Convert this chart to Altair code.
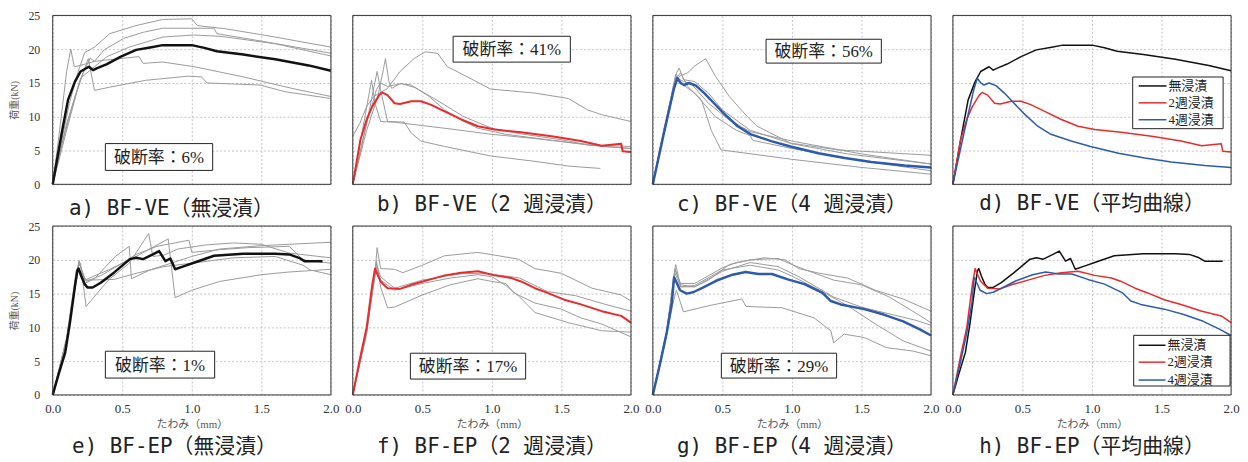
import altair as alt
import pandas as pd

# ---------------- axis ticks ----------------
XT = [0.0, 0.5, 1.0, 1.5, 2.0]
YT = [0, 5, 10, 15, 20, 25]

# ---------------- data: (deflection mm, load kN) ----------------
# a) BF-VE no immersion
A_MEAN = [(0,0),(0.065,7.6),(0.11,12.5),(0.16,15.2),(0.2,16.7),(0.26,17.4),(0.29,16.9),(0.32,17.2),(0.39,17.8),(0.49,18.9),(0.6,19.9),(0.71,20.3),(0.79,20.6),(1.0,20.6),(1.09,20.2),(1.18,19.7),(1.37,19.2),(1.6,18.5),(1.84,17.6),(2.0,16.8)]
A_G1 = [(0,0),(0.06,6),(0.12,12),(0.18,16.5),(0.23,19.5),(0.3,20.3),(0.41,22.3),(0.6,23.5),(0.79,24.4),(1.0,24.5),(1.04,23.5),(1.25,23.0),(1.6,21.8),(2.0,20.3)]
A_G2 = [(0,0),(0.08,7),(0.16,13),(0.22,16.5),(0.27,18.7),(0.3,18.2),(0.37,19.9),(0.51,21.6),(0.65,22.5),(0.79,23.1),(1.16,23.1),(1.18,22.3),(1.5,21.2),(2.0,19.4)]
A_G3 = [(0,0),(0.1,8),(0.2,15.7),(0.3,17.4),(0.39,18.9),(0.55,20.3),(0.79,21.8),(1.02,22.1),(1.21,21.9),(1.6,20.8),(2.0,19.0)]
A_G4 = [(0,0),(0.05,8),(0.1,16.7),(0.13,20),(0.155,17.4),(0.2,17.6),(0.3,18.2),(0.39,18.4),(0.62,18.9),(0.65,17.9),(0.79,18.1),(1.02,17.4),(1.37,15.9),(1.72,14.2),(2.0,13.0)]
A_G5 = [(0,0),(0.1,9),(0.2,15.5),(0.256,18.6),(0.3,13.9),(0.415,14.4),(0.67,15.4),(0.97,16),(1.07,15.9),(1.11,15),(1.49,14.7),(1.67,13.7),(2.0,12.7)]

# b) BF-VE 2 weeks
B_MEAN = [(0,0),(0.055,6.6),(0.1,9.6),(0.14,11.5),(0.19,13.2),(0.21,13.6),(0.25,13.2),(0.3,12.0),(0.34,11.9),(0.42,12.3),(0.49,12.3),(0.56,11.8),(0.66,10.8),(0.78,9.6),(0.9,8.6),(1.02,8.1),(1.21,7.7),(1.43,7.1),(1.64,6.4),(1.79,5.7),(1.93,6.0),(1.94,4.9),(2.0,4.8)]
B_G1 = [(0,7.1),(0.05,9),(0.1,11.5),(0.15,13),(0.2,13.6),(0.25,14.2),(0.34,16.7),(0.44,18.6),(0.52,19.6),(0.61,19.4),(0.68,17.4),(0.73,16.9),(0.87,15.4),(0.99,14.1),(1.31,13.5),(1.55,12.7),(1.69,11.0),(1.79,10.3),(2.0,9.3)]
B_G2 = [(0,0),(0.1,8),(0.18,13),(0.22,17),(0.235,18.6),(0.26,15.2),(0.28,14.2),(0.34,14.9),(0.42,14.7),(0.55,13),(0.66,11),(0.8,9.3),(0.9,8.3),(1.1,7.4),(1.4,6.6),(1.7,5.8),(2.0,5.3)]
B_G3 = [(0,0),(0.1,9),(0.175,16.7),(0.2,14),(0.25,9.3),(0.37,9.2),(0.42,7.6),(0.49,6.4),(0.66,5.6),(0.99,4.2),(1.31,3.4),(1.55,2.7),(1.78,2.35)]
B_G4 = [(0,0),(0.07,8),(0.135,15.4),(0.16,12),(0.2,9.3),(0.3,9.2),(0.5,8.7),(0.7,8.2),(1.0,7.4),(1.3,6.8),(1.6,6.1),(1.8,5.6),(2.0,5.3)]
B_G5 = [(0,0),(0.1,9),(0.17,14),(0.2,15),(0.25,14.5),(0.35,14.9),(0.45,14.3),(0.6,12.5),(0.8,10),(1.0,8.3),(1.2,7.5),(1.5,6.6),(1.7,5.8),(2.0,5.6)]

# c) BF-VE 4 weeks
C_MEAN = [(0,0),(0.08,7.6),(0.15,14),(0.176,15.7),(0.2,15),(0.224,14.7),(0.26,15),(0.31,14.6),(0.37,13.5),(0.44,12),(0.51,10.5),(0.61,8.6),(0.705,7.4),(0.85,6.4),(0.99,5.6),(1.19,4.6),(1.38,3.9),(1.57,3.3),(1.81,2.8),(2.0,2.5)]
C_G1 = [(0,0),(0.08,8),(0.15,14),(0.19,16),(0.25,16.5),(0.3,17.5),(0.38,18.6),(0.45,16),(0.55,13),(0.68,10),(0.75,8.6),(0.99,6.1),(1.33,5.1),(2.0,4.3)]
C_G2 = [(0,0),(0.08,8.2),(0.17,16.5),(0.19,17.2),(0.22,15.5),(0.3,15.2),(0.4,13.5),(0.5,11),(0.7,8),(1.0,6),(1.4,4.5),(2.0,3)]
C_G3 = [(0,0),(0.08,7.5),(0.17,15.8),(0.2,16.5),(0.25,14.5),(0.35,12.5),(0.42,8),(0.49,5.1),(1.0,3.7),(1.5,2.5),(2.0,1.5)]
C_G4 = [(0,0),(0.08,8),(0.17,16),(0.2,15),(0.3,13.5),(0.45,10),(0.6,8),(0.7,7.2),(0.72,6.5),(1.0,5.3),(1.5,3.5),(2.0,2.0)]
C_G5 = [(0,0),(0.08,7.8),(0.165,16.3),(0.2,15.4),(0.28,14.8),(0.4,12),(0.55,9.5),(0.7,7.8),(1.0,6.4),(1.5,4.5),(2.0,3.0)]

# e) BF-EP no immersion
E_MEAN = [(0,0),(0.04,2.9),(0.09,6.3),(0.124,10.7),(0.16,16.1),(0.177,18.4),(0.186,18.7),(0.205,17.6),(0.23,16.4),(0.25,15.9),(0.287,15.9),(0.345,16.6),(0.44,18.1),(0.555,20.1),(0.6,20.3),(0.65,20.1),(0.72,20.8),(0.765,21.3),(0.81,19.8),(0.846,20.2),(0.88,18.6),(0.95,19.1),(1.02,19.6),(1.16,20.6),(1.37,20.9),(1.6,20.9),(1.7,20.8),(1.77,20.3),(1.81,19.8),(1.94,19.8)]
E_G1 = [(0,0),(0.1,8),(0.17,18),(0.19,19.9),(0.23,16.5),(0.3,17.2),(0.45,20.5),(0.55,22),(0.566,17.2),(0.7,18.5),(0.85,19.5),(1.0,20.5),(1.2,21.6),(1.5,22.1),(1.7,22.3),(2.0,22.6)]
E_G2 = [(0,0),(0.1,8.5),(0.17,18.5),(0.2,19.5),(0.24,13.1),(0.4,17),(0.55,19.5),(0.69,23.9),(0.72,20.5),(0.8,20.7),(0.9,21.6),(1.1,22.2),(1.3,22.5),(1.5,22.3),(1.7,21),(2.0,20.3)]
E_G3 = [(0,0),(0.1,8.2),(0.19,19.8),(0.23,17),(0.4,18.5),(0.6,20.5),(0.83,23.1),(0.88,14.4),(1.0,15.5),(1.2,16.8),(1.5,17.8),(1.7,18.2),(2.0,18.6)]
E_G4 = [(0,0),(0.1,8),(0.19,19.5),(0.24,16.8),(0.35,17.7),(0.5,19.5),(0.6,20.8),(0.75,22),(0.98,22.9),(1.0,21.1),(1.2,21.5),(1.4,21.8),(1.7,22),(1.8,20),(2.0,19.5)]
E_G5 = [(0,0),(0.1,8.3),(0.18,19),(0.24,17),(0.44,17.1),(0.6,18),(0.8,19),(1.0,19.5),(1.3,20.3),(1.6,20.5),(1.8,19.2),(1.85,18.5),(2.0,17.8)]

# f) BF-EP 2 weeks
F_MEAN = [(0,0),(0.055,5.7),(0.1,10),(0.14,16.3),(0.16,18.7),(0.17,18.2),(0.2,16.8),(0.25,15.8),(0.34,15.7),(0.42,16.3),(0.54,17),(0.66,17.7),(0.78,18.1),(0.9,18.3),(1.02,17.7),(1.14,17.3),(1.21,16.8),(1.31,15.8),(1.4,15.1),(1.52,14.1),(1.64,13.4),(1.79,12.4),(1.93,11.7),(2.0,10.7)]
F_G1 = [(0,0),(0.1,9.5),(0.16,18),(0.175,21.8),(0.2,18.7),(0.3,18.6),(0.36,18.1),(0.5,19.2),(0.66,20.6),(0.9,21.1),(1.02,20.7),(1.19,20.1),(1.31,18.7),(1.5,18),(1.72,15.8),(1.93,14.8),(2.0,13.9)]
F_G2 = [(0,0),(0.1,9),(0.15,17),(0.17,19.8),(0.2,16),(0.25,12.9),(0.3,13),(0.5,14.8),(0.7,16.3),(0.9,17.2),(1.0,16.8),(1.1,16.5),(1.16,15.1),(1.31,13.6),(1.5,12.7),(1.64,11.4),(1.79,10.5),(2.0,8.6)]
F_G3 = [(0,0),(0.1,9.3),(0.17,19),(0.2,17),(0.3,15.5),(0.5,16.5),(0.7,17.3),(0.9,17.8),(1.0,17.5),(1.1,16.2),(1.2,14.5),(1.31,12.2),(1.55,10.7),(1.79,9.5),(2.0,9.3)]
F_G4 = [(0,0),(0.1,9.6),(0.17,19.5),(0.2,17.5),(0.3,15.8),(0.5,17),(0.8,18),(1.0,17.9),(1.2,17.3),(1.4,15.3),(1.6,14.7),(1.8,13.5),(2.0,12.4)]

# g) BF-EP 4 weeks
G_MEAN = [(0,0),(0.054,4.8),(0.1,9.2),(0.137,13.7),(0.153,17.4),(0.172,16.6),(0.196,15.5),(0.243,15.0),(0.29,15.2),(0.36,15.9),(0.455,16.9),(0.573,17.8),(0.667,18.2),(0.76,17.9),(0.856,17.9),(0.97,17.1),(1.09,16.4),(1.22,15.1),(1.28,13.9),(1.35,13.4),(1.52,12.7),(1.66,11.9),(1.8,10.9),(1.92,9.7),(2.0,8.8)]
G_G1 = [(0,0),(0.1,9.5),(0.15,17.5),(0.165,19.3),(0.2,16),(0.3,16),(0.4,17),(0.55,19.3),(0.7,20),(0.9,20.2),(1.0,19.3),(1.1,18.5),(1.3,17),(1.5,16.3),(1.7,14.5),(1.9,12),(2.0,10.7)]
G_G2 = [(0,0),(0.1,9.3),(0.16,18.5),(0.2,16.5),(0.3,16.5),(0.5,18.8),(0.6,19.6),(0.8,20.3),(0.95,20),(1.05,18.7),(1.2,18),(1.4,17.3),(1.6,15.5),(1.8,14.2),(2.0,12.4)]
G_G3 = [(0,0),(0.08,7),(0.15,14),(0.17,15.5),(0.22,12.3),(0.4,13.2),(0.64,14.2),(0.67,13.1),(0.93,12.9),(1.16,11.4),(1.28,9.5),(1.3,7.7),(1.375,9.0),(1.52,8.5),(1.68,7),(1.87,6.5),(2.0,5.8)]
G_G4 = [(0,0),(0.1,9.4),(0.16,18),(0.2,16),(0.3,16.2),(0.5,18.5),(0.7,19.2),(0.9,18.5),(1.0,17.6),(1.2,15.5),(1.4,13.2),(1.6,10.5),(1.8,8),(2.0,6.5)]
G_G5 = [(0,0),(0.1,9.2),(0.16,18.7),(0.2,16.3),(0.3,16),(0.5,18.3),(0.7,19.6),(0.9,19),(1.05,17.5),(1.3,14.5),(1.5,13),(1.7,12),(1.9,11),(2.0,10.3)]

TITLES = ["a) BF-VE（無浸漬）", "b) BF-VE（2 週浸漬）", "c) BF-VE（4 週浸漬）", "d) BF-VE（平均曲線）",
          "e) BF-EP（無浸漬）", "f) BF-EP（2 週浸漬）", "g) BF-EP（4 週浸漬）", "h) BF-EP（平均曲線）"]
NOTES = ["破断率：6%", "破断率：41%", "破断率：56%", "破断率：1%", "破断率：17%", "破断率：29%"]
LEGEND_LABELS = ["無浸漬", "2週浸漬", "4週浸漬"]

# ---------------- styles ----------------
GRAY = "#9a9a9a"
BLACK = "#111111"
RED = "#ea2a2c"
BLUE = "#2d5baa"
W, H = 280, 170
SERIF_JP = "Liberation Serif, Noto Sans CJK JP"
TITLE_FONT = "DejaVu Sans Mono, Noto Sans CJK JP"


def to_df(curves):
    rows = []
    for cid, pts in enumerate(curves):
        for i, (x, y) in enumerate(pts):
            rows.append({"id": cid, "i": i, "x": x, "y": y})
    return pd.DataFrame(rows)


def encodings(bottom, left):
    xs = alt.Scale(domain=[0, 2], nice=False)
    ys = alt.Scale(domain=[0, 25], nice=False)
    if bottom:
        x = alt.X("x:Q", scale=xs, title="たわみ（mm）",
                  axis=alt.Axis(values=XT, format=".1f", labelPadding=8, labelFlush=False,
                                labelFontSize=13,
                                titleFont=SERIF_JP, titleFontSize=11, titleColor="#555",
                                titleFontWeight="normal", titlePadding=3))
    else:
        x = alt.X("x:Q", scale=xs, title=None, axis=alt.Axis(values=XT, labels=False))
    if left:
        y = alt.Y("y:Q", scale=ys, title="荷重(kN)",
                  axis=alt.Axis(values=YT, labelPadding=13, labelFlush=False, titleFont=SERIF_JP,
                                titleFontSize=10, titleColor="#555",
                                titleFontWeight="normal", titlePadding=8))
    else:
        y = alt.Y("y:Q", scale=ys, title=None, axis=alt.Axis(values=YT, labels=False))
    return x, y


def border_layer():
    return alt.Chart(pd.DataFrame({"k": [0]})).mark_rect(
        filled=False, stroke="#333", strokeWidth=1).encode(
        x=alt.value(0), x2=alt.value(W), y=alt.value(0), y2=alt.value(H))


def note_layers(note, box):
    x1, x2, y1, y2 = box
    one = pd.DataFrame({"note": [note]})
    rect = alt.Chart(one).mark_rect(fill="white", stroke="#222", strokeWidth=1).encode(
        x=alt.value(x1), x2=alt.value(x2), y=alt.value(y1), y2=alt.value(y2))
    txt = alt.Chart(one).mark_text(font=SERIF_JP, fontSize=17, color="#222",
                                   align="center", baseline="middle").encode(
        x=alt.value((x1 + x2) / 2), y=alt.value((y1 + y2) / 2 + 1), text="note:N")
    return [rect, txt]


def legend_layers(box, rows_y, line_x, text_x, colors):
    x1, x2, y1, y2 = box
    out = [alt.Chart(pd.DataFrame({"k": [0]})).mark_rect(fill="white", stroke="#222", strokeWidth=1).encode(
        x=alt.value(x1), x2=alt.value(x2), y=alt.value(y1), y2=alt.value(y2))]
    for lab, col, ry in zip(LEGEND_LABELS, colors, rows_y):
        d = pd.DataFrame({"lab": [lab]})
        out.append(alt.Chart(d).mark_rule(color=col, strokeWidth=1.5).encode(
            x=alt.value(line_x[0]), x2=alt.value(line_x[1]), y=alt.value(ry)))
        out.append(alt.Chart(d).mark_text(font=SERIF_JP, fontSize=13, color="#222",
                                          align="left", baseline="middle").encode(
            x=alt.value(text_x), y=alt.value(ry), text="lab:N"))
    return out


def panel(title, bottom, left, grays, means, mean_width, note=None, box=None, legend=None):
    x, y = encodings(bottom, left)
    layers = []
    if grays:
        layers.append(alt.Chart(to_df(grays)).mark_line(color=GRAY, strokeWidth=1).encode(
            x=x, y=y, detail="id:N", order="i:Q"))
    for pts, col in means:
        layers.append(alt.Chart(to_df([pts])).mark_line(color=col, strokeWidth=mean_width,
                                                        strokeJoin="round").encode(
            x=x, y=y, order="i:Q"))
    if note is not None:
        layers += note_layers(note, box)
    if legend is not None:
        layers += legend
    layers.append(border_layer())
    return alt.layer(*layers).properties(
        width=W, height=H,
        title=alt.TitleParams(text=title, orient="bottom", anchor="middle", frame="bounds",
                              fontSize=21, font=TITLE_FONT, fontWeight="normal", color="#222",
                              offset=(6 if bottom else 8)))


pa = panel(TITLES[0], False, True, [A_G1, A_G2, A_G3, A_G4, A_G5], [(A_MEAN, BLACK)], 2.5,
           NOTES[0], (53, 161, 129, 156))
pb = panel(TITLES[1], False, False, [B_G1, B_G2, B_G3, B_G4, B_G5], [(B_MEAN, RED)], 2,
           NOTES[1], (101, 219, 21, 47))
pc = panel(TITLES[2], False, False, [C_G1, C_G2, C_G3, C_G4, C_G5], [(C_MEAN, BLUE)], 2.5,
           NOTES[2], (114, 230, 24, 48))
pd_ = panel(TITLES[3], False, False, [], [(A_MEAN, BLACK), (B_MEAN, RED), (C_MEAN, BLUE)], 1.5,
            legend=legend_layers((181, 272, 62, 114), [71, 88, 105], (187, 215), 217, [BLACK, RED, BLUE]))

pe = panel(TITLES[4], True, True, [E_G1, E_G2, E_G3, E_G4, E_G5], [(E_MEAN, BLACK)], 2.5,
           NOTES[3], (53, 163, 126, 153))
pf = panel(TITLES[5], True, False, [F_G1, F_G2, F_G3, F_G4], [(F_MEAN, RED)], 2,
           NOTES[4], (58, 174, 128, 154))
pg = panel(TITLES[6], True, False, [G_G1, G_G2, G_G3, G_G4, G_G5], [(G_MEAN, BLUE)], 2.5,
           NOTES[5], (69, 185, 128, 153))
ph = panel(TITLES[7], True, False, [], [(E_MEAN, BLACK), (F_MEAN, RED), (G_MEAN, BLUE)], 1.5,
           legend=legend_layers((182, 279, 110, 161), [120, 137, 155], (187, 214), 216, [BLACK, RED, BLUE]))

chart = alt.concat(pa, pb, pc, pd_, pe, pf, pg, ph, columns=4,
                   spacing={"row": 42, "column": 22}, bounds="flush").properties(
    padding={"left": 2, "top": 0, "right": 0, "bottom": 0}
).configure_view(
    strokeWidth=0
).configure_axis(
    grid=True, gridColor="#c4c4c4", gridDash=[2, 2], gridWidth=1,
    domain=False, ticks=False,
    labelFont="Liberation Serif", labelFontSize=12, labelColor="#333"
)

chart.save("out.html", embed_options={"renderer": "svg", "actions": False})
